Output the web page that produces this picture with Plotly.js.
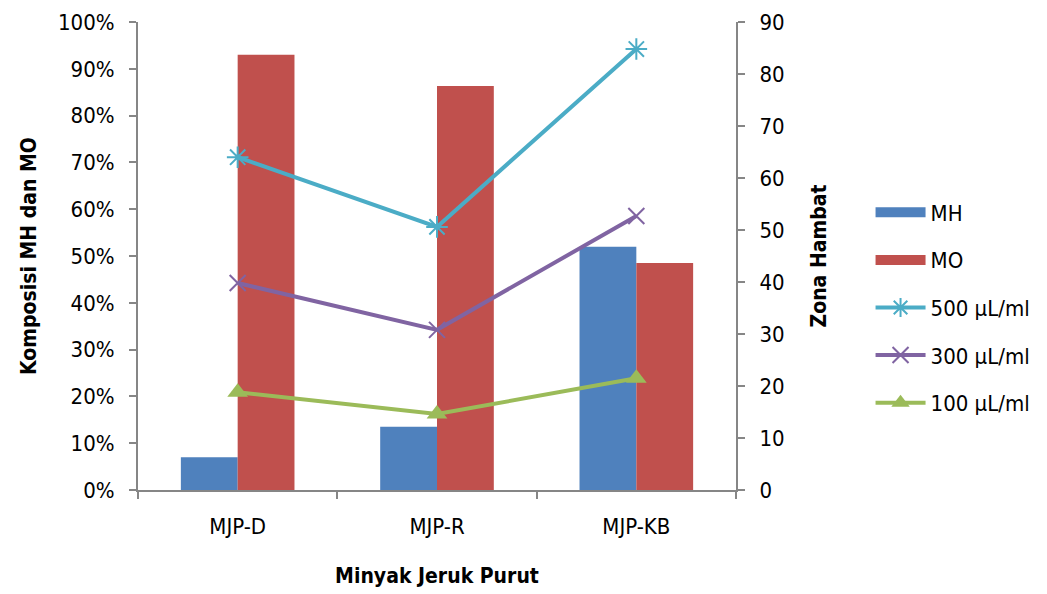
<!DOCTYPE html>
<html>
<head>
<meta charset="utf-8">
<script src="https://cdn.plot.ly/plotly-3.0.1.min.js"></script>
<style>
  html, body { margin: 0; padding: 0; background: #fff; }
  #chart { width: 1047px; height: 594px; }
</style>
</head>
<body>
<div id="chart"></div>
<script>
// Oil samples on the x axis
const categories = ['MJP-D', 'MJP-R', 'MJP-KB'];

// Composition shares (left axis, fraction of 1)
const mhShare = [0.07, 0.135, 0.52];
const moShare = [0.93, 0.863, 0.485];

// Inhibition zone at each concentration (right axis)
const zone500 = [64.0, 50.6, 84.8];
const zone300 = [39.8, 30.8, 52.7];
const zone100 = [18.8, 14.6, 21.5];

const FONT = '"DejaVu Sans Condensed", "Liberation Sans", sans-serif';
const AXIS_GREY = '#868686';
const FS = 22;
const TFS = 21;
const MH_COLOR = '#4F81BD';
const MO_COLOR = '#C0504D';

// Legend swatches for the bar series: wide flat bars like the classic office legend
function swatch(name, color, rank) {
  return { type: 'scatter', mode: 'lines', name: name, legendgroup: name, legendrank: rank,
           x: [null], y: [null], line: { color: color, width: 14 }, hoverinfo: 'skip' };
}

const traces = [
  { type: 'bar', name: 'MH', showlegend: false, x: categories, y: mhShare, marker: { color: MH_COLOR }, yaxis: 'y' },
  { type: 'bar', name: 'MO', showlegend: false, x: categories, y: moShare, marker: { color: MO_COLOR }, yaxis: 'y' },
  swatch('MH', MH_COLOR, 1),
  swatch('MO', MO_COLOR, 2),
  { type: 'scatter', mode: 'lines+markers', name: '500 µL/ml', legendgroup: 'c', legendrank: 3, x: categories, y: zone500, yaxis: 'y2',
    line: { color: '#4BACC6', width: 4 },
    marker: { symbol: 'asterisk-open', size: 18, color: '#4BACC6', line: { color: '#4BACC6', width: 2 } } },
  { type: 'scatter', mode: 'lines+markers', name: '300 µL/ml', legendgroup: 'd', legendrank: 4, x: categories, y: zone300, yaxis: 'y2',
    line: { color: '#8064A2', width: 4 },
    marker: { symbol: 'x-thin-open', size: 16, color: '#8064A2', line: { color: '#8064A2', width: 2 } } },
  { type: 'scatter', mode: 'lines+markers', name: '100 µL/ml', legendgroup: 'e', legendrank: 5, x: categories, y: zone100, yaxis: 'y2',
    line: { color: '#9BBB59', width: 4 },
    marker: { symbol: 'triangle-up', size: 18, color: '#9BBB59' } }
];

const layout = {
  width: 1047, height: 594,
  paper_bgcolor: '#fff', plot_bgcolor: '#fff',
  margin: { l: 138, r: 311, t: 22, b: 104 },
  font: { family: FONT, size: FS, color: '#000' },
  barmode: 'group', bargap: 0.43, bargroupgap: 0,
  showlegend: true,
  legend: {
    x: 1.225, xanchor: 'left', y: 0.39, yanchor: 'middle',
    font: { family: FONT, size: FS, color: '#000' },
    tracegroupgap: 16, itemwidth: 50, bgcolor: 'rgba(0,0,0,0)'
  },
  xaxis: {
    type: 'category',
    showline: true, linecolor: AXIS_GREY, linewidth: 2,
    ticks: 'outside', tickson: 'boundaries', ticklen: 7, tickcolor: AXIS_GREY, tickwidth: 2,
    ticklabelstandoff: 16,
    showgrid: false, zeroline: false,
    tickfont: { family: FONT, size: FS },
    title: { text: '<b>Minyak Jeruk Purut</b>', font: { family: FONT, size: TFS }, standoff: 30 }
  },
  yaxis: {
    range: [0, 1], dtick: 0.1, tickformat: '.0%',
    showline: true, linecolor: AXIS_GREY, linewidth: 2,
    ticks: 'outside', ticklen: 7, tickcolor: AXIS_GREY, tickwidth: 2,
    ticklabelstandoff: 10,
    showgrid: false, zeroline: false,
    tickfont: { family: FONT, size: FS },
    title: { text: '<b>Komposisi MH dan MO</b>', font: { family: FONT, size: TFS }, standoff: 16 }
  },
  yaxis2: {
    overlaying: 'y', side: 'right',
    range: [0, 90], dtick: 10,
    showline: true, linecolor: AXIS_GREY, linewidth: 2,
    ticks: 'outside', ticklen: 7, tickcolor: AXIS_GREY, tickwidth: 2,
    ticklabelstandoff: 10,
    showgrid: false, zeroline: false,
    tickfont: { family: FONT, size: FS },
    title: { text: '<b>Zona Hambat</b>', font: { family: FONT, size: TFS }, standoff: 28 }
  }
};

Plotly.newPlot('chart', traces, layout, { displayModeBar: false, staticPlot: true });
</script>
</body>
</html>
